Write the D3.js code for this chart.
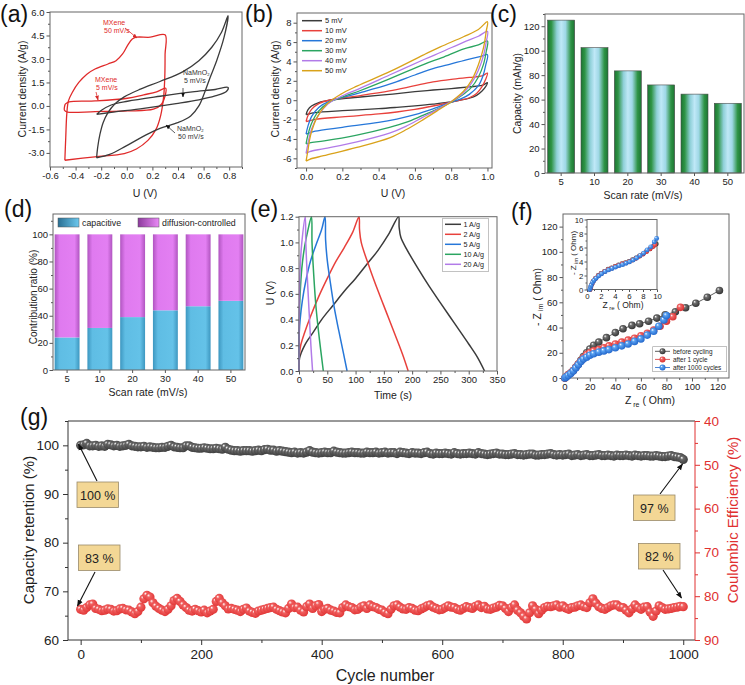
<!DOCTYPE html>
<html>
<head>
<meta charset="utf-8">
<script src="https://cdn.jsdelivr.net/npm/d3@7"></script>
<style>
  body { margin: 0; background: #fff; }
  text { font-family: "Liberation Sans", Arial, sans-serif; }
</style>
</head>
<body>
<script>
// ---------- data ----------
// (a) CV loops [U (V), j (A/g)]
const mxene50 = [[-0.484,-3.47],[-0.477,-2.03],[-0.469,-0.54],[-0.456,0.32],[-0.426,0.86],[-0.375,1.5],[-0.312,2.03],[-0.248,2.36],[-0.147,2.68],[-0.084,2.89],[-0.033,3.32],[0.005,3.85],[0.043,4.28],[0.076,4.39],[0.183,4.39],[0.299,4.54],[0.299,3.3],[0.297,1.9],[0.288,0.6],[0.265,-0.6],[0.228,-1.5],[0.165,-2.2],[0.075,-2.75],[-0.02,-3.04],[-0.25,-3.25],[-0.484,-3.47]];
const mxene5 = [[-0.482,0.11],[-0.451,0.26],[-0.248,0.32],[0.005,0.49],[0.132,0.71],[0.233,0.9],[0.304,1.13],[0.299,0.64],[0.271,0.11],[0.208,-0.21],[0.005,-0.32],[-0.248,-0.36],[-0.464,-0.39],[-0.487,-0.28],[-0.482,0.11]];
const namno5 = [[-0.236,-0.54],[-0.198,-0.28],[-0.122,0.06],[0.005,0.3],[0.259,0.62],[0.512,0.9],[0.69,1.05],[0.791,1.18],[0.778,0.92],[0.69,0.64],[0.563,0.39],[0.385,0.15],[0.132,-0.15],[-0.122,-0.41],[-0.236,-0.54]];
const namno50 = [[-0.236,-3.32],[-0.228,-2.68],[-0.21,-1.82],[-0.185,-1.07],[-0.147,-0.43],[-0.096,0.11],[-0.02,0.58],[0.106,1.07],[0.259,1.56],[0.436,2.18],[0.563,2.89],[0.664,3.75],[0.74,4.71],[0.791,5.76],[0.76,4.39],[0.702,2.89],[0.651,1.82],[0.608,0.86],[0.563,0.0],[0.499,-0.64],[0.398,-1.07],[0.259,-1.43],[0.132,-1.93],[-0.008,-2.57],[-0.134,-3.1],[-0.236,-3.32]];

// (b) CV at different scan rates [U, j]
const cv5 = [[0,-1.5],[0.01,-1.0],[0.03,-0.6],[0.07,-0.25],[0.13,0.0],[0.22,0.2],[0.3,0.33],[0.46,0.6],[0.6,0.88],[0.7,1.05],[0.8,1.2],[0.9,1.38],[0.97,1.52],[1.0,1.8],[0.99,1.4],[0.97,0.95],[0.94,0.5],[0.9,0.2],[0.85,0.0],[0.8,-0.18],[0.7,-0.4],[0.6,-0.58],[0.5,-0.74],[0.4,-0.88],[0.2,-1.08],[0.05,-1.28],[0.02,-1.4],[0,-1.5]];
const cv10 = [[0,-2.2],[0.01,-1.6],[0.03,-0.95],[0.07,-0.35],[0.13,0.02],[0.22,0.28],[0.3,0.48],[0.46,0.95],[0.6,1.5],[0.7,1.88],[0.8,2.15],[0.9,2.35],[0.97,2.5],[1.0,2.8],[0.99,2.15],[0.97,1.4],[0.94,0.7],[0.9,0.25],[0.85,0.0],[0.8,-0.2],[0.7,-0.6],[0.6,-0.95],[0.5,-1.22],[0.4,-1.42],[0.2,-1.72],[0.05,-1.98],[0.02,-2.1],[0,-2.2]];
const cv20 = [[0,-3.5],[0.01,-2.7],[0.03,-1.7],[0.07,-0.75],[0.13,-0.1],[0.22,0.38],[0.3,0.78],[0.46,1.65],[0.6,2.6],[0.7,3.25],[0.8,3.75],[0.9,4.25],[0.97,4.55],[1.0,4.7],[0.99,3.6],[0.975,2.5],[0.95,1.5],[0.9,0.6],[0.85,0.1],[0.8,-0.2],[0.7,-0.9],[0.6,-1.5],[0.5,-1.95],[0.4,-2.3],[0.2,-2.8],[0.05,-3.2],[0.02,-3.38],[0,-3.5]];
const cv30 = [[0,-4.5],[0.01,-3.6],[0.03,-2.4],[0.07,-1.1],[0.13,-0.2],[0.21,0.4],[0.3,1.0],[0.46,2.2],[0.65,3.7],[0.75,4.4],[0.87,5.3],[0.95,5.7],[1.0,6.1],[0.993,5.0],[0.978,3.7],[0.95,2.4],[0.91,1.3],[0.86,0.5],[0.8,-0.2],[0.72,-0.95],[0.64,-1.6],[0.55,-2.3],[0.46,-2.8],[0.28,-3.6],[0.1,-4.2],[0.02,-4.4],[0,-4.5]];
const cv40 = [[0,-5.5],[0.01,-4.5],[0.03,-3.0],[0.07,-1.5],[0.12,-0.4],[0.2,0.45],[0.3,1.25],[0.46,2.6],[0.65,4.2],[0.75,5.0],[0.87,6.0],[0.95,6.6],[1.0,7.1],[0.993,6.0],[0.978,4.6],[0.95,3.1],[0.91,1.7],[0.865,0.7],[0.8,-0.15],[0.72,-1.0],[0.64,-1.8],[0.55,-2.7],[0.46,-3.4],[0.28,-4.3],[0.1,-5.0],[0.02,-5.3],[0,-5.5]];
const cv50 = [[0,-6.3],[0.01,-5.2],[0.025,-3.6],[0.06,-1.8],[0.115,-0.4],[0.19,0.6],[0.28,1.45],[0.464,2.97],[0.648,4.68],[0.74,5.5],[0.868,6.55],[0.95,7.3],[1.0,8.1],[0.993,7.1],[0.978,5.4],[0.95,3.65],[0.914,2.1],[0.868,0.92],[0.804,-0.1],[0.72,-1.13],[0.648,-1.98],[0.556,-3.0],[0.464,-3.86],[0.28,-4.88],[0.097,-5.73],[0.02,-6.1],[0,-6.3]];
const cvNames = ["5 mV","10 mV","20 mV","30 mV","40 mV","50 mV"];

// (c), (d) bars
const rates = ["5","10","20","30","40","50"];
const capacity = [125, 102.5, 83.5, 72, 64.5, 57];
const capacitive = [24, 31, 39, 44, 47, 51];
const diffusion = [76, 69, 61, 56, 53, 49];

// (e) GCD [t (s), U (V)]
const gcd1 = [[0,0],[1,0.1],[10,0.2],[25,0.3],[40,0.4],[60,0.51],[80,0.62],[100,0.72],[120,0.83],[140,0.94],[158,1.06],[176,1.2],[177,1.12],[180,1.04],[190,0.95],[210,0.8],[230,0.66],[250,0.53],[275,0.37],[300,0.21],[315,0.11],[328,0]];
const gcd2 = [[0,0],[0.5,0.12],[3,0.2],[10,0.3],[20,0.42],[35,0.58],[50,0.72],[65,0.85],[80,0.96],[95,1.08],[106,1.2],[107,1.1],[110,1.0],[125,0.8],[140,0.62],[155,0.45],[170,0.28],[183,0.13],[193,0]];
const gcd5 = [[0,0],[0.5,0.3],[2,0.4],[6,0.55],[12,0.7],[20,0.85],[30,0.98],[40,1.1],[46,1.2],[47,1.02],[50,0.86],[55,0.7],[62,0.5],[70,0.32],[78,0.15],[85,0]];
const gcd10 = [[0,0],[0.5,0.4],[2,0.6],[5,0.8],[10,0.97],[16,1.1],[22,1.2],[23,1.0],[26,0.75],[30,0.5],[36,0.25],[43,0]];
const gcd20 = [[0,0],[0.5,0.5],[2,0.8],[5,1.0],[11,1.2],[12,1.0],[15,0.7],[18,0.45],[21,0.2],[24,0]];
const gcdNames = ["1 A/g","2 A/g","5 A/g","10 A/g","20 A/g"];

// (f) Nyquist [Zre, -Zim]
const eisBefore = [[0.5,0],[1.5,1],[3,2.5],[5,4],[7,6],[9,8.5],[11,11],[13,14],[15,17],[17.5,20],[20,23],[23,26],[27,28.5],[33,32],[40,36],[46,39],[53,41.7],[59,43],[66,45],[72.5,47.5],[79,50],[87,52.5],[95,55.7],[103,59.3],[112,64],[121.5,69.4]];
const eisAfter1 = [[0.5,0],[1.5,1],[3,2.5],[5,4],[7,6],[9,8.5],[11,11],[13,13.5],[15,16],[17.5,18.5],[20,20],[23,21.5],[27,22.5],[31,24],[35,25.5],[40,27],[45,28.5],[50,30],[55,31.5],[60,33.5],[65,35.5],[70,38],[75,41],[80,45],[85,48.5],[91,56]];
const eisAfter1000 = [[0.5,0],[1.5,0.8],[3,2],[5,3.5],[7,5.5],[9,8],[11,10.5],[13,13],[15,15],[17.5,16.5],[20,18],[23,19.2],[27,20.5],[31,21.5],[35,22.5],[40,24],[45,25.5],[50,27],[55,29],[60,31],[65,34],[70,37],[74,41],[78,46],[80,49.5]];
const insetBefore = [[0.45,0],[0.55,0.4],[0.7,0.8],[0.9,1.2],[1.2,1.6],[1.6,2.0],[2.0,2.3],[2.5,2.6],[3.0,2.9],[3.5,3.1],[4.0,3.3],[4.5,3.5],[5.0,3.7],[5.5,3.85],[6.0,4.0],[6.5,4.25],[7.0,4.5],[7.5,4.8],[8.0,5.1],[8.5,5.45],[9.0,5.8],[9.5,6.2],[9.9,6.5]];
const insetAfter1 = [[0.45,0],[0.55,0.35],[0.7,0.75],[0.9,1.15],[1.2,1.55],[1.6,1.95],[2.0,2.25],[2.5,2.55],[3.0,2.85],[3.5,3.05],[4.0,3.25],[4.5,3.45],[5.0,3.65],[5.5,3.8],[6.0,3.95],[6.5,4.2],[7.0,4.45],[7.5,4.75],[8.0,5.05],[8.5,5.4],[9.0,5.8],[9.4,6.1],[9.7,6.4]];
const insetAfter1000 = [[0.4,0],[0.5,0.3],[0.6,0.6],[0.8,1.0],[1.0,1.3],[1.3,1.6],[1.7,1.95],[2.1,2.25],[2.6,2.55],[3.1,2.8],[3.6,3.0],[4.1,3.2],[4.6,3.4],[5.1,3.55],[5.6,3.75],[6.1,3.95],[6.6,4.2],[7.1,4.5],[7.6,4.85],[8.1,5.2],[8.6,5.65],[9.1,6.1],[9.6,6.8],[9.95,7.3]];
const eisNames = ["before cycling","after 1 cycle","after 1000 cycles"];

// (g) cycling, every 5 cycles
const cycles = d3.range(0, 1001, 5);
const retention = [
  100.0,100.1,100.4,99.9,99.9,100.0,99.8,99.9,99.8,100.2,
  100.1,99.9,100.0,99.8,99.9,100.0,100.2,99.9,99.8,99.7,
  99.7,99.8,99.6,99.7,99.6,99.5,99.5,99.6,99.6,99.8,
  100.0,99.7,99.6,99.5,99.5,99.9,99.9,99.6,99.5,99.4,
  99.4,99.5,99.4,99.3,99.3,99.4,99.3,99.2,99.6,99.2,
  99.0,98.9,98.9,98.8,98.9,98.9,98.9,98.8,98.9,99.0,
  98.9,99.1,99.2,99.0,99.0,98.8,98.9,98.8,98.7,98.6,
  98.5,98.6,98.4,98.5,98.4,98.6,98.9,98.6,98.5,98.4,
  98.5,98.6,98.5,98.5,98.8,98.6,98.5,98.4,98.4,98.5,
  98.6,98.5,98.5,98.4,98.4,98.6,98.5,98.5,98.6,98.4,
  98.5,98.6,98.4,98.5,98.5,98.3,98.6,98.5,98.4,98.3,
  98.5,98.4,98.4,98.3,98.5,98.6,98.3,98.2,98.4,98.3,
  98.3,98.4,98.3,98.2,98.5,98.3,98.2,98.3,98.3,98.4,
  98.3,98.2,98.5,98.3,98.2,98.1,98.2,98.3,98.4,98.2,
  98.2,98.1,98.1,98.2,98.3,98.1,98.1,98.0,98.1,98.2,
  98.2,98.0,98.0,98.1,98.1,98.2,98.3,98.1,98.0,98.1,
  98.0,98.1,98.2,97.9,98.0,98.1,97.9,98.0,98.1,97.9,
  97.9,98.0,98.1,97.9,97.9,98.0,97.9,97.8,98.0,97.9,
  97.9,98.0,97.9,97.8,98.0,97.9,97.8,97.9,97.9,97.8,
  97.8,97.9,97.8,97.7,97.7,97.8,97.9,97.7,97.6,97.5,
  97.1];
const efficiency = [
  83.0,83.2,82.6,82.0,81.8,82.8,83.0,83.3,83.2,82.9,
  83.0,83.4,83.3,82.9,82.8,83.1,83.2,83.6,84.0,83.5,
  82.5,80.6,79.8,80.2,81.5,82.3,82.8,83.2,83.5,83.0,
  82.2,81.0,80.5,81.2,82.0,82.6,83.2,83.4,83.0,83.3,
  83.6,83.2,83.8,83.4,83.0,81.2,80.5,81.5,82.2,82.9,
  82.8,83.0,83.2,83.5,83.0,82.7,83.4,83.7,83.9,83.4,
  83.2,83.0,82.8,82.6,82.5,83.0,83.3,83.6,83.8,82.8,
  81.8,82.6,82.5,83.2,83.6,82.4,81.8,82.8,82.2,81.9,
  83.5,83.0,82.8,83.2,83.4,83.7,83.8,82.6,82.0,82.4,
  82.6,83.1,83.0,82.5,82.2,82.8,82.0,82.4,82.6,83.0,
  83.2,83.7,84.0,83.0,82.2,82.0,82.5,82.9,83.0,82.6,
  82.8,83.2,83.3,82.9,82.6,82.2,82.0,82.5,82.8,83.1,
  83.0,82.6,82.2,82.5,82.6,83.0,83.2,82.8,82.4,82.6,
  82.8,82.3,82.0,82.6,82.3,82.9,83.0,82.7,82.5,82.1,
  82.2,82.8,83.5,82.6,82.0,83.2,83.8,84.6,85.2,83.8,
  82.2,83.0,84.0,83.2,82.6,82.3,82.4,82.2,82.0,82.5,
  82.2,82.7,83.0,82.6,82.5,82.2,82.0,82.4,82.6,81.5,
  80.6,81.6,82.4,82.8,83.0,82.6,82.2,82.0,82.0,82.5,
  82.6,83.2,83.8,82.9,82.0,82.6,83.0,82.5,82.4,83.6,
  84.6,83.4,82.2,82.6,83.0,82.9,82.8,82.6,82.5,82.3,
  82.4];

// ---------- setup ----------
const FONT = '"Liberation Sans", Arial, sans-serif';
const svg = d3.select("body").append("svg")
  .attr("width", 745).attr("height", 685)
  .style("font-family", FONT);
const defs = svg.append("defs");

function linGrad(id, stops) {
  const lg = defs.append("linearGradient").attr("id", id)
    .attr("x1", 0).attr("x2", 1).attr("y1", 0).attr("y2", 0);
  stops.forEach(s => lg.append("stop").attr("offset", s[0]).attr("stop-color", s[1]));
}
function ballGrad(id, light, dark) {
  const rg = defs.append("radialGradient").attr("id", id)
    .attr("cx", 0.45).attr("cy", 0.45).attr("r", 0.6).attr("fx", 0.32).attr("fy", 0.3);
  [[0, "#ffffff"], [0.3, light], [1, dark]].forEach(s =>
    rg.append("stop").attr("offset", s[0]).attr("stop-color", s[1]));
}
function arrowMarker(id, color) {
  defs.append("marker").attr("id", id).attr("viewBox", "0 0 10 10")
    .attr("refX", 9).attr("refY", 5).attr("markerWidth", 6).attr("markerHeight", 6)
    .attr("orient", "auto")
    .append("path").attr("d", "M0,1L10,5L0,9z").attr("fill", color);
}
linGrad("gBar", [[0, "#1c7532"], [0.14, "#2f9446"], [0.34, "#8fd0d8"], [0.5, "#bfe8f7"], [0.66, "#9fd8e6"], [0.86, "#2f9446"], [1, "#1c7532"]]);
linGrad("gCap", [[0, "#3d97c0"], [0.2, "#5fbde4"], [0.8, "#64c2e8"], [1, "#3d97c0"]]);
linGrad("gDif", [[0, "#b055c0"], [0.2, "#df7aef"], [0.8, "#e37ff2"], [1, "#b055c0"]]);
linGrad("gCapL", [[0, "#2a6f93"], [1, "#6cc8ee"]]);
linGrad("gDifL", [[0, "#8c3a9c"], [1, "#ea8af7"]]);
ballGrad("bK", "#707070", "#2e2e2e");
ballGrad("bR", "#f26666", "#d42c2c");
ballGrad("bB", "#5aa2f2", "#1e62c8");
ballGrad("gK", "#6a6a6a", "#3a3a3a");
ballGrad("gR", "#f06060", "#e03434");
arrowMarker("arrK", "#111");
arrowMarker("arrR", "#d62a2a");

function drawAxis(g, scale, side, at, ticks, minor, fmt, o) {
  const gen = {bottom: d3.axisBottom, left: d3.axisLeft, right: d3.axisRight}[side];
  const tr = side === "bottom" ? `translate(0,${at})` : `translate(${at},0)`;
  if (minor) {
    const m = g.append("g").attr("transform", tr)
      .call(gen(scale).tickValues(minor).tickSize(o.minor).tickFormat(""));
    m.select(".domain").remove();
    m.selectAll("line").attr("stroke", o.color);
  }
  const ax = g.append("g").attr("transform", tr)
    .call(gen(scale).tickValues(ticks).tickSize(o.major).tickPadding(o.pad).tickFormat(fmt));
  ax.select(".domain").remove();
  ax.selectAll("line").attr("stroke", o.color);
  ax.selectAll("text").attr("font-size", o.fs).attr("fill", o.text || "#222")
    .attr("font-family", FONT);
  return ax;
}
function box(g, x, y, color) {
  const [x0, x1] = x.range(), [y0, y1] = y.range();
  g.append("rect").attr("x", x0).attr("y", y1).attr("width", x1 - x0).attr("height", y0 - y1)
    .attr("fill", "none").attr("stroke", color || "#666").attr("stroke-width", 1);
}
function yTitle(g, txt, x, y, fs, color) {
  return g.append("text").attr("transform", `translate(${x},${y}) rotate(-90)`)
    .attr("text-anchor", "middle").attr("font-size", fs).attr("fill", color || "#222").text(txt);
}
function xTitle(g, txt, x, y, fs) {
  return g.append("text").attr("x", x).attr("y", y).attr("text-anchor", "middle")
    .attr("font-size", fs).attr("fill", "#222").text(txt);
}
function panelLabel(txt, x, y) {
  svg.append("text").attr("x", x).attr("y", y).attr("font-size", 23).attr("fill", "#111").text(txt);
}
const small = {major: 3.5, minor: 2, pad: 2, fs: 9.5, color: "#555"};
const f1 = d => d.toFixed(1);

// ---------- (a) ----------
{
  const g = svg.append("g");
  const x = d3.scaleLinear().domain([-0.6, 0.9]).range([50, 242]);
  const y = d3.scaleLinear().domain([-3.9, 6.0]).range([167, 12]);
  drawAxis(g, x, "bottom", 167, [-0.6,-0.4,-0.2,0,0.2,0.4,0.6,0.8], [-0.5,-0.3,-0.1,0.1,0.3,0.5,0.7,0.9], f1, small);
  drawAxis(g, y, "left", 50, [-3,-1.5,0,1.5,3,4.5,6], [-2.25,-0.75,0.75,2.25,3.75,5.25], f1, small);
  box(g, x, y);
  const line = d3.line().x(d => x(d[0])).y(d => y(d[1])).curve(d3.curveCatmullRom.alpha(0.5));
  [[mxene50, "#e02a2a"], [mxene5, "#e02a2a"], [namno5, "#3b3b3b"], [namno50, "#3b3b3b"]].forEach(s =>
    g.append("path").datum(s[0]).attr("d", line).attr("fill", "none").attr("stroke", s[1]).attr("stroke-width", 1.3));
  const ann = [
    {t: ["MXene", "50 mV/s"], x: 103, y: 25, c: "#e02a2a", a: [125, 28, 137, 38], m: "arrR"},
    {t: ["MXene", "5 mV/s"], x: 95, y: 82, c: "#e02a2a", a: [96, 92, 98, 100], m: "arrR"},
    {t: ["NaMnO₂", "5 mV/s"], x: 183, y: 75, c: "#333", a: [183, 88, 183, 97], m: "arrK"},
    {t: ["NaMnO₂", "50 mV/s"], x: 177, y: 131, c: "#333", a: [175, 133, 166, 125], m: "arrK"}
  ];
  ann.forEach(d => {
    g.append("text").attr("x", d.x).attr("y", d.y).attr("font-size", 7).attr("fill", d.c).text(d.t[0]);
    g.append("text").attr("x", d.x + 1).attr("y", d.y + 8).attr("font-size", 7).attr("fill", d.c).text(d.t[1]);
    g.append("line").attr("x1", d.a[0]).attr("y1", d.a[1]).attr("x2", d.a[2]).attr("y2", d.a[3])
      .attr("stroke", d.c).attr("stroke-width", 0.8).attr("marker-end", `url(#${d.m})`);
  });
  yTitle(g, "Current density (A/g)", 25.5, 89, 10.5);
  xTitle(g, "U (V)", 145, 197, 10.5);
}

// ---------- (b) ----------
{
  const g = svg.append("g");
  const x = d3.scaleLinear().domain([-0.05, 1.025]).range([297, 492]);
  const y = d3.scaleLinear().domain([-7, 9]).range([168, 13]);
  drawAxis(g, x, "bottom", 168, [0,0.2,0.4,0.6,0.8,1.0], [0.1,0.3,0.5,0.7,0.9], f1, small);
  drawAxis(g, y, "left", 297, [-6,-4,-2,0,2,4,6,8], [-7,-5,-3,-1,1,3,5,7], d => String(d), small);
  box(g, x, y);
  const colors = ["#3b3b3b", "#e8413c", "#2677d9", "#2ba561", "#b27be8", "#d9a21a"];
  const line = d3.line().x(d => x(d[0])).y(d => y(d[1])).curve(d3.curveCatmullRom.alpha(0.5));
  [cv5, cv10, cv20, cv30, cv40, cv50].forEach((s, i) =>
    g.append("path").datum(s).attr("d", line).attr("fill", "none").attr("stroke", colors[i]).attr("stroke-width", 1.3));
  cvNames.forEach((n, i) => {
    const yy = 20.7 + i * 10;
    g.append("line").attr("x1", 302).attr("x2", 322).attr("y1", yy).attr("y2", yy)
      .attr("stroke", colors[i]).attr("stroke-width", 1.5);
    g.append("text").attr("x", 325).attr("y", yy + 2.6).attr("font-size", 7.5).attr("fill", "#222").text(n);
  });
  yTitle(g, "Current density (A/g)", 279, 89, 10.5);
  xTitle(g, "U (V)", 393, 197, 10.5);
}

// ---------- (c) ----------
{
  const g = svg.append("g");
  const x = d3.scaleBand().domain(rates).range([545, 744]).paddingInner(0.19).paddingOuter(0.08);
  const y = d3.scaleLinear().domain([0, 130]).range([173, 14]);
  g.selectAll("rect.bar").data(capacity).join("rect").attr("class", "bar")
    .attr("x", (d, i) => x(rates[i])).attr("width", x.bandwidth())
    .attr("y", d => y(d)).attr("height", d => y(0) - y(d))
    .attr("fill", "url(#gBar)").attr("stroke", "#4a4a4a").attr("stroke-width", 0.6);
  drawAxis(g, x, "bottom", 173, rates, null, d => d, Object.assign({}, small, {major: 3}));
  drawAxis(g, y, "left", 545, [0,20,40,60,80,100,120], [10,30,50,70,90,110,130], d => String(d), small);
  box(g, d3.scaleLinear().range([545, 744]), y);
  yTitle(g, "Capacity (mAh/g)", 520.5, 93.5, 10.5);
  xTitle(g, "Scan rate (mV/s)", 643, 199, 10.5);
}

// ---------- (d) ----------
{
  const g = svg.append("g");
  const x = d3.scaleBand().domain(rates).range([53, 245]).paddingInner(0.24).paddingOuter(0.05);
  const y = d3.scaleLinear().domain([0, 115]).range([370, 214]);
  g.selectAll("rect.cap").data(capacitive).join("rect").attr("class", "cap")
    .attr("x", (d, i) => x(rates[i])).attr("width", x.bandwidth())
    .attr("y", d => y(d)).attr("height", d => y(0) - y(d)).attr("fill", "url(#gCap)");
  g.selectAll("rect.dif").data(diffusion).join("rect").attr("class", "dif")
    .attr("x", (d, i) => x(rates[i])).attr("width", x.bandwidth())
    .attr("y", (d, i) => y(capacitive[i] + d)).attr("height", (d, i) => y(capacitive[i]) - y(capacitive[i] + d))
    .attr("fill", "url(#gDif)");
  drawAxis(g, x, "bottom", 370, rates, null, d => d, Object.assign({}, small, {major: 3}));
  drawAxis(g, y, "left", 53, [0,20,40,60,80,100], [10,30,50,70,90,110], d => String(d), Object.assign({}, small, {pad: 1.5}));
  box(g, d3.scaleLinear().range([53, 245]), y);
  [["gCapL", "capacitive", 58], ["gDifL", "diffusion-controlled", 138]].forEach(l => {
    g.append("rect").attr("x", l[2]).attr("y", 218).attr("width", 21).attr("height", 9)
      .attr("fill", `url(#${l[0]})`).attr("stroke", "#555").attr("stroke-width", 0.5);
    g.append("text").attr("x", l[2] + 24).attr("y", 226).attr("font-size", 8.8).attr("fill", "#222").text(l[1]);
  });
  yTitle(g, "Contribution ratio (%)", 36.5, 297, 10);
  xTitle(g, "Scan rate (mV/s)", 148, 396, 10.5);
}

// ---------- (e) ----------
{
  const g = svg.append("g");
  const x = d3.scaleLinear().domain([0, 350]).range([299, 497]);
  const y = d3.scaleLinear().domain([0, 1.2]).range([371, 216.7]);
  const colors = ["#3b3b3b", "#e8413c", "#2677d9", "#2ba561", "#b27be8"];
  const line = d3.line().x(d => x(d[0])).y(d => y(d[1])).curve(d3.curveCatmullRom.alpha(0.5));
  [gcd1, gcd2, gcd5, gcd10, gcd20].forEach((s, i) =>
    g.append("path").datum(s).attr("d", line).attr("fill", "none").attr("stroke", colors[i]).attr("stroke-width", 1.5));
  drawAxis(g, x, "bottom", 371, [0,50,100,150,200,250,300,350], [25,75,125,175,225,275,325], d => String(d), small);
  drawAxis(g, y, "left", 299, [0,0.2,0.4,0.6,0.8,1.0,1.2], [0.1,0.3,0.5,0.7,0.9,1.1], f1, small);
  box(g, x, y);
  g.append("rect").attr("x", 442.7).attr("y", 218.3).attr("width", 45.6).attr("height", 53.4)
    .attr("fill", "#fff").attr("stroke", "#999").attr("stroke-width", 0.6);
  gcdNames.forEach((n, i) => {
    const yy = 224.3 + i * 10;
    g.append("line").attr("x1", 445).attr("x2", 461).attr("y1", yy).attr("y2", yy)
      .attr("stroke", colors[i]).attr("stroke-width", 1.5);
    g.append("text").attr("x", 463.5).attr("y", yy + 2.5).attr("font-size", 7.2).attr("fill", "#222").text(n);
  });
  yTitle(g, "U (V)", 274, 293, 10.5);
  xTitle(g, "Time (s)", 393, 399, 10.5);
}

// ---------- (f) ----------
{
  const g = svg.append("g");
  const x = d3.scaleLinear().domain([-1, 129]).range([563, 729]);
  const y = d3.scaleLinear().domain([0, 130]).range([378, 214]);
  drawAxis(g, x, "bottom", 378, [0,20,40,60,80,100,120], [10,30,50,70,90,110], d => String(d), small);
  drawAxis(g, y, "left", 563, [0,20,40,60,80,100,120], [10,30,50,70,90,110], d => String(d), small);
  box(g, x, y);
  const lineCol = ["#333", "#d93030", "#2266cc"], balls = ["bK", "bR", "bB"];
  const line = d3.line().x(d => x(d[0])).y(d => y(d[1]));
  [eisBefore, eisAfter1, eisAfter1000].forEach((s, i) => {
    g.append("path").datum(s).attr("d", line).attr("fill", "none").attr("stroke", lineCol[i]).attr("stroke-width", 0.8);
    g.selectAll(null).data(s).join("circle").attr("cx", d => x(d[0])).attr("cy", d => y(d[1]))
      .attr("r", 3.8).attr("fill", `url(#${balls[i]})`);
  });
  // inset
  const xi = d3.scaleLinear().domain([0, 10]).range([587, 657]);
  const yi = d3.scaleLinear().domain([0, 10]).range([289.5, 219.5]);
  g.append("rect").attr("x", 587).attr("y", 219.5).attr("width", 70).attr("height", 70).attr("fill", "#fff");
  const ins = Object.assign({}, small, {fs: 7.8, major: 2.5, minor: 1.5, pad: 1.2});
  drawAxis(g, xi, "bottom", 289.5, [0,2,4,6,8,10], [1,3,5,7,9], d => String(d), ins);
  drawAxis(g, yi, "left", 587, [0,2,4,6,8,10], [1,3,5,7,9], d => String(d), ins);
  box(g, xi, yi);
  const linei = d3.line().x(d => xi(d[0])).y(d => yi(d[1]));
  [insetBefore, insetAfter1, insetAfter1000].forEach((s, i) => {
    g.append("path").datum(s).attr("d", linei).attr("fill", "none").attr("stroke", lineCol[i]).attr("stroke-width", 0.6);
    g.selectAll(null).data(s).join("circle").attr("cx", d => xi(d[0])).attr("cy", d => yi(d[1]))
      .attr("r", 2.4).attr("fill", `url(#${balls[i]})`);
  });
  const ty = yTitle(g, "- Z", 575.5, 253, 8);
  ty.append("tspan").attr("font-size", 5.5).attr("dy", 2).text(" im");
  ty.append("tspan").attr("dy", -2).text(" ( Ohm)");
  const tx = xTitle(g, "Z", 623, 307.5, 8.5);
  tx.append("tspan").attr("font-size", 6).attr("dy", 2).text(" re");
  tx.append("tspan").attr("dy", -2).text(" ( Ohm)");
  // legend
  g.append("rect").attr("x", 652.7).attr("y", 346.7).attr("width", 74).attr("height", 25)
    .attr("fill", "#fff").attr("stroke", "#999").attr("stroke-width", 0.6);
  eisNames.forEach((n, i) => {
    const yy = 351.3 + i * 8.1;
    g.append("line").attr("x1", 655).attr("x2", 670).attr("y1", yy).attr("y2", yy)
      .attr("stroke", lineCol[i]).attr("stroke-width", 0.8);
    g.append("circle").attr("cx", 662.5).attr("cy", yy).attr("r", 3).attr("fill", `url(#${balls[i]})`);
    g.append("text").attr("x", 673).attr("y", yy + 2.2).attr("font-size", 6.4).attr("fill", "#222").text(n);
  });
  const my = yTitle(g, "- Z", 540.5, 297, 10.5);
  my.append("tspan").attr("font-size", 7).attr("dy", 2.5).text(" im");
  my.append("tspan").attr("dy", -2.5).text(" ( Ohm)");
  const mx = xTitle(g, "Z", 650, 404, 10.5);
  mx.append("tspan").attr("font-size", 7).attr("dy", 2.5).text(" re");
  mx.append("tspan").attr("dy", -2.5).text(" ( Ohm)");
}

// ---------- (g) ----------
{
  const g = svg.append("g");
  const x = d3.scaleLinear().domain([-21, 1019.5]).range([68, 695]);
  const y = d3.scaleLinear().domain([60, 105]).range([640, 421]);
  const yr = d3.scaleLinear().domain([90, 40]).range([640, 421]);
  const big = {major: 5, minor: 3, pad: 4, fs: 13.5, color: "#333"};
  drawAxis(g, x, "bottom", 640, [0,200,400,600,800,1000], [100,300,500,700,900], d => String(d), big);
  drawAxis(g, y, "left", 68, [60,70,80,90,100], [65,75,85,95,105], d => String(d), big);
  drawAxis(g, yr, "right", 695, [40,50,60,70,80,90], [45,55,65,75,85], d => String(d),
    Object.assign({}, big, {color: "#e03030", text: "#e03030"}));
  g.append("line").attr("x1", 68).attr("x2", 695).attr("y1", 421).attr("y2", 421).attr("stroke", "#333");
  g.append("line").attr("x1", 68).attr("x2", 695).attr("y1", 640).attr("y2", 640).attr("stroke", "#333");
  g.append("line").attr("x1", 68).attr("x2", 68).attr("y1", 421).attr("y2", 640).attr("stroke", "#333");
  g.append("line").attr("x1", 695).attr("x2", 695).attr("y1", 421).attr("y2", 640).attr("stroke", "#e03030");
  g.selectAll("circle.ret").data(retention).join("circle").attr("class", "ret")
    .attr("cx", (d, i) => x(cycles[i])).attr("cy", d => y(d)).attr("r", 4.6).attr("fill", "url(#gK)");
  g.selectAll("circle.ce").data(efficiency).join("circle").attr("class", "ce")
    .attr("cx", (d, i) => x(cycles[i])).attr("cy", d => yr(d)).attr("r", 4.6).attr("fill", "url(#gR)");
  const notes = [
    {t: "100 %", bx: 77, by: 482, a: [97, 481, 78.5, 444]},
    {t: "83 %", bx: 78.5, by: 545, a: [95, 572, 77.5, 606]},
    {t: "97 %", bx: 633.5, by: 495, a: [660, 494, 682.5, 464]},
    {t: "82 %", bx: 638.5, by: 543.5, a: [663, 570, 681.5, 598]}
  ];
  notes.forEach(n => {
    g.append("line").attr("x1", n.a[0]).attr("y1", n.a[1]).attr("x2", n.a[2]).attr("y2", n.a[3])
      .attr("stroke", "#111").attr("stroke-width", 1.1).attr("marker-end", "url(#arrK)");
    g.append("rect").attr("x", n.bx).attr("y", n.by).attr("width", 41.5).attr("height", 25.5)
      .attr("fill", "#f3d795").attr("stroke", "#9a8a6a").attr("stroke-width", 0.8);
    g.append("text").attr("x", n.bx + 20.75).attr("y", n.by + 17.5).attr("text-anchor", "middle")
      .attr("font-size", 12.5).attr("fill", "#222").text(n.t);
  });
  yTitle(g, "Capacity retention (%)", 33.5, 530, 15);
  yTitle(g, "Coulombic Efficiency (%)", 738, 520, 15, "#e03030");
  xTitle(g, "Cycle number", 385, 681, 16);
}

panelLabel("(a)", 0, 22);
panelLabel("(b)", 245, 22);
panelLabel("(c)", 490, 22);
panelLabel("(d)", 4, 217);
panelLabel("(e)", 250, 217);
panelLabel("(f)", 511, 220);
panelLabel("(g)", 20, 425);
</script>
</body>
</html>
